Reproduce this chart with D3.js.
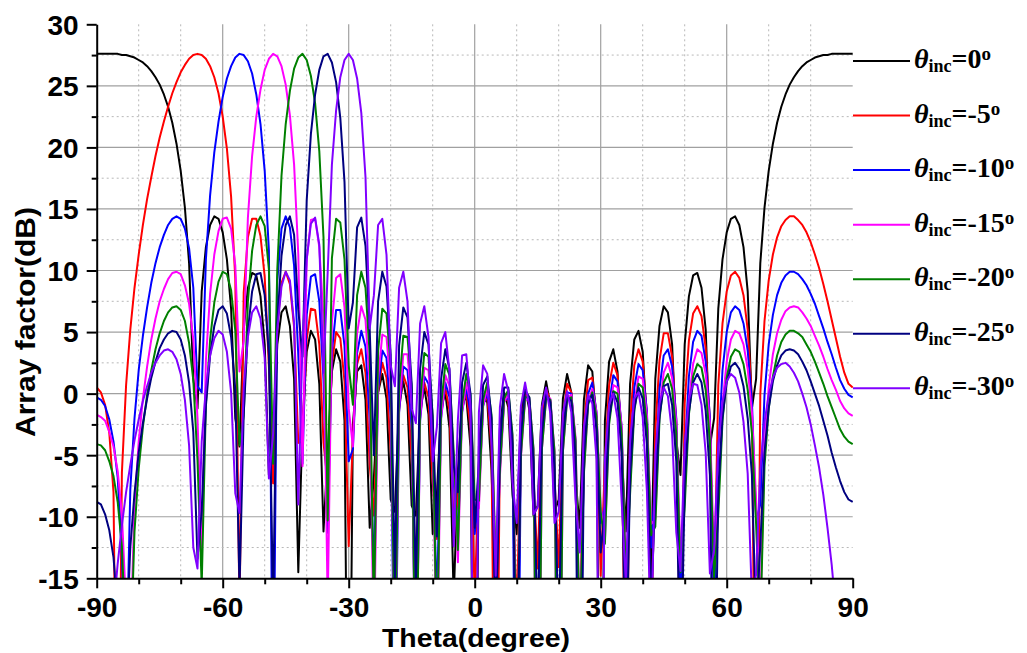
<!DOCTYPE html>
<html>
<head>
<meta charset="utf-8">
<script src="https://cdn.jsdelivr.net/npm/d3@7"></script>
<style>
  body { margin: 0; background: #ffffff; }
  svg { display: block; }
</style>
</head>
<body>
<svg id="chart" width="1027" height="653"></svg>
<script>
const thetaDeg = d3.range(-90, 91, 1);   // sample angles, -90 ... 90

const seriesLabels = ["0", "-5", "-10", "-15", "-20", "-25", "-30"];
const seriesColors = ["#000000", "#ff0000", "#0000ff", "#ff00ff", "#008000", "#000080", "#8000ff"];

const afInc0 = [
  27.6,27.6,27.6,27.6,27.6,27.6,27.5,27.5,27.4,27.3,
  27.1,26.9,26.6,26.2,25.7,25.1,24.3,23.3,22.0,20.3,
  18.1,15.1,10.6,1.2,-1.2,8.3,11.9,13.7,14.4,14.2,
  13.1,10.9,6.9,-2.0,-4.3,5.2,8.6,9.8,9.6,7.9,
  4.0,-6.6,-3.8,4.0,6.6,7.1,5.5,1.2,-14.5,-2.4,
  3.4,5.1,4.4,0.8,-11.2,-4.8,1.8,3.6,2.6,-2.2,
  -40,-2.5,1.8,2.3,-0.5,-10.9,-6.8,0.1,1.6,-0.4,
  -8.6,-9.6,-0.9,1.0,-0.9,-9.1,-9.9,-1.3,0.5,-1.7,
  -11.4,-8.2,-1.1,0.1,-2.8,-16.7,-6.2,-0.7,-0.3,-4.3,
  -40,
  -4.3,-0.3,-0.7,-6.2,-16.7,-2.8,0.1,-1.1,-8.2,-11.4,
  -1.7,0.5,-1.3,-9.9,-9.1,-0.9,1.0,-0.9,-9.6,-8.6,
  -0.4,1.6,0.1,-6.8,-10.9,-0.5,2.3,1.8,-2.5,-40,
  -2.2,2.6,3.6,1.8,-4.8,-11.2,0.8,4.4,5.1,3.4,
  -2.4,-14.5,1.2,5.5,7.1,6.6,4.0,-3.8,-6.6,4.0,
  7.9,9.6,9.8,8.6,5.2,-4.3,-2.0,6.9,10.9,13.1,
  14.2,14.4,13.7,11.9,8.3,-1.2,1.2,10.6,15.1,18.1,
  20.3,22.0,23.3,24.3,25.1,25.7,26.2,26.6,26.9,27.1,
  27.3,27.4,27.5,27.5,27.6,27.6,27.6,27.6,27.6,27.6
];

const afIncM5 = [
  0.5,0.1,-0.9,-3.2,-8.0,-40,-6.4,0.7,5.2,8.6,
  11.3,13.7,15.8,17.6,19.3,20.8,22.1,23.3,24.4,25.3,
  26.1,26.7,27.2,27.5,27.6,27.5,27.2,26.6,25.7,24.4,
  22.5,19.9,16.0,9.3,-17.7,8.2,12.7,14.2,14.2,12.8,
  9.5,2.2,-7.3,5.5,9.0,9.9,8.9,5.4,-4.0,-3.9,
  4.4,6.9,6.8,4.0,-4.0,-7.2,2.4,5.0,4.5,1.0,
  -12.4,-3.5,2.4,3.6,1.7,-5.8,-9.9,0.1,2.5,1.3,
  -4.7,-14.5,-1.3,1.5,0.5,-5.4,-14.7,-1.8,0.9,-0.3,
  -7.2,-11.8,-1.6,0.5,-1.4,-10.6,-8.6,-1.2,0.1,-2.8,
  -16.7,
  -6.2,-0.7,-0.3,-4.3,-40,-4.3,-0.3,-0.6,-5.9,-18.4,
  -3.1,0.1,-0.8,-6.9,-14.2,-2.3,0.4,-0.6,-6.8,-14.1,
  -2.1,0.8,0.1,-5.0,-20.7,-2.7,1.1,1.3,-1.8,-14.8,
  -5.6,0.7,2.5,1.5,-3.4,-29.7,-2.4,2.3,3.6,2.6,
  -1.7,-21.4,-3.0,2.7,4.9,4.9,3.0,-2.3,-23.5,-0.8,
  4.3,6.5,7.1,6.3,3.7,-2.3,-16.5,0.7,5.7,8.3,
  9.6,9.9,9.4,8.0,5.2,-0.4,-40,0.0,5.9,9.2,
  11.3,12.7,13.6,14.1,14.4,14.4,14.1,13.7,13.1,12.3,
  11.3,10.2,8.9,7.5,6.0,4.5,3.0,1.7,0.8,0.5
];

const afIncM10 = [
  -0.3,-0.5,-1.0,-2.1,-3.9,-6.8,-13.2,-23.3,-7.8,-2.0,
  1.9,4.7,7.0,9.0,10.6,11.9,12.9,13.7,14.2,14.4,
  14.2,13.4,11.8,8.6,0.6,0.1,10.9,16.1,19.6,22.1,
  24.1,25.6,26.6,27.3,27.6,27.5,27.0,26.0,24.3,21.9,
  18.1,11.6,-30,9.2,13.4,14.4,13.5,10.4,3.1,-5.7,
  6.4,9.5,9.7,7.5,1.2,-11.3,3.4,6.8,6.8,3.9,
  -5.5,-4.5,3.3,5.1,3.8,-2.1,-14.8,0.3,3.5,2.9,
  -1.8,-27.6,-1.5,2.2,1.9,-2.8,-25.7,-2.2,1.4,0.8,
  -4.6,-17.0,-2.0,0.9,-0.3,-7.2,-11.5,-1.5,0.5,-1.6,
  -11.4,
  -8.1,-1.0,0.1,-3.0,-18.4,-5.9,-0.6,-0.3,-4.4,-40,
  -4.4,-0.3,-0.6,-5.4,-23.1,-3.7,-0.1,-0.5,-5.3,-23.5,
  -3.7,0.1,0.0,-3.9,-27.5,-4.8,0.0,0.9,-1.5,-10.5,
  -9.2,-0.9,1.5,1.0,-2.8,-18.4,-5.4,0.5,2.4,1.9,
  -1.4,-12.5,-7.1,0.4,3.1,3.6,2.2,-2.0,-17.0,-5.1,
  1.4,4.2,5.1,4.7,2.6,-1.9,-18.1,-4.7,1.9,5.0,
  6.6,7.1,6.8,5.7,3.5,-0.6,-10.3,-9.0,-0.1,4.0,
  6.4,8.0,9.0,9.6,9.9,9.9,9.7,9.3,8.8,8.1,
  7.3,6.3,5.3,4.2,3.2,2.1,1.1,0.4,-0.1,-0.3
];

const afIncM15 = [
  -1.7,-1.9,-2.2,-3.1,-4.3,-6.3,-9.8,-17.4,-20.8,-9.1,
  -3.9,-0.4,2.2,4.4,6.1,7.5,8.5,9.3,9.8,9.9,
  9.7,8.8,7.3,4.4,-2.0,-12.8,2.7,8.1,11.3,13.2,
  14.2,14.3,13.4,10.4,1.8,4.3,14.3,19.3,22.5,24.7,
  26.3,27.2,27.6,27.4,26.6,25.1,22.6,18.6,11.3,-5.9,
  10.9,14.1,14.2,11.9,6.1,-17.3,5.8,9.4,9.7,7.0,
  -1.2,-4.3,4.9,7.1,6.0,0.8,-21.5,1.2,4.8,4.6,
  0.4,-23.7,-1.1,3.2,3.2,-0.9,-28.0,-2.0,2.1,1.9,
  -2.8,-23.4,-2.0,1.5,0.6,-5.4,-13.7,-1.5,0.9,-0.7,
  -9.1,
  -9.3,-1.0,0.5,-2.1,-14.2,-6.7,-0.7,0.0,-3.5,-23.1,
  -5.2,-0.5,-0.4,-4.5,-40,-4.5,-0.4,-0.4,-4.6,-40,
  -4.7,-0.4,-0.1,-3.5,-19.0,-6.3,-0.7,0.4,-1.5,-9.2,
  -12.0,-2.1,0.7,0.5,-2.7,-14.5,-7.6,-0.8,1.4,1.2,
  -1.7,-10.6,-10.2,-1.4,1.7,2.5,1.3,-2.3,-13.3,-8.3,
  -0.6,2.4,3.6,3.3,1.6,-2.4,-13.4,-8.7,-0.8,2.6,
  4.4,5.1,4.9,4.0,2.0,-1.5,-8.6,-17.7,-4.2,0.5,
  3.2,4.9,6.0,6.7,7.0,7.1,7.0,6.6,6.1,5.5,
  4.7,3.9,3.0,2.0,1.1,0.3,-0.6,-1.2,-1.6,-1.8
];

const afIncM20 = [
  -4.1,-4.2,-4.6,-5.5,-6.7,-8.8,-12.4,-20.6,-22.1,-11.2,
  -6.1,-2.7,-0.1,1.9,3.6,4.9,5.9,6.6,7.0,7.1,
  6.8,5.9,4.1,1.1,-5.4,-15.6,-0.8,4.4,7.4,9.1,
  9.9,9.7,8.4,5.1,-4.2,-1.8,7.5,11.6,13.7,14.4,
  13.6,10.1,-5.7,10.1,17.7,21.9,24.6,26.4,27.3,27.6,
  27.1,25.8,23.6,19.7,12.7,-10.3,11.0,14.2,13.9,10.9,
  2.3,-0.9,8.0,9.9,8.6,3.2,-18.3,3.5,6.9,6.5,
  2.2,-23.1,0.6,4.7,4.6,0.4,-28.3,-0.7,3.3,3.0,
  -1.8,-21.6,-1.0,2.4,1.5,-4.7,-12.7,-0.8,1.6,-0.1,
  -8.6,
  -8.7,-0.5,0.9,-1.7,-14.0,-6.2,-0.4,0.3,-3.3,-23.5,
  -5.0,-0.3,-0.3,-4.5,-40,-4.5,-0.4,-0.5,-4.7,-40,
  -4.7,-0.5,-0.3,-3.8,-19.6,-6.5,-0.9,0.1,-1.9,-9.6,
  -12.2,-2.5,0.2,0.0,-3.3,-15.2,-8.1,-1.4,0.8,0.5,
  -2.5,-11.5,-10.8,-2.1,0.9,1.6,0.4,-3.2,-14.5,-9.2,
  -1.7,1.4,2.4,2.1,0.3,-3.8,-14.9,-9.8,-2.2,1.3,
  3.0,3.6,3.4,2.4,0.3,-3.2,-10.6,-19.0,-5.9,-1.2,
  1.4,3.1,4.2,4.8,5.1,5.1,4.9,4.6,4.0,3.4,
  2.6,1.7,0.8,-0.2,-1.1,-2.0,-2.9,-3.5,-3.9,-4.1
];

const afIncM25 = [
  -8.8,-9.0,-9.8,-11.1,-13.3,-17.6,-30.6,-20.6,-12.5,-8.1,
  -4.8,-2.4,-0.4,1.3,2.6,3.7,4.4,4.9,5.1,5.0,
  4.4,3.1,0.9,-3.1,-13.4,-9.5,-1.0,3.1,5.5,6.8,
  7.1,6.5,4.6,0.3,-15.8,-1.7,5.1,8.3,9.7,9.8,
  8.0,3.1,-17.5,5.7,11.2,13.7,14.4,12.9,6.8,3.0,
  15.7,21.1,24.3,26.3,27.4,27.6,26.9,25.3,22.4,17.2,
  5.3,7.4,13.5,14.3,12.0,5.2,-5.0,7.5,9.9,8.7,
  3.2,-15.0,3.9,7.0,6.2,0.8,-15.9,2.0,5.0,4.0,
  -2.1,-11.6,1.2,3.6,2.0,-5.8,-8.0,0.9,2.5,0.0,
  -10.9,
  -5.6,0.7,1.4,-2.0,-20.6,-4.2,0.5,0.5,-4.1,-27.5,
  -3.4,0.3,-0.3,-5.6,-19.0,-3.2,0.0,-0.7,-6.1,-19.6,
  -3.6,-0.2,-0.6,-5.0,-40,-5.0,-0.7,-0.1,-2.9,-12.9,
  -9.4,-2.0,0.1,-0.7,-4.8,-24.6,-6.5,-1.2,0.5,-0.4,
  -4.1,-16.9,-8.5,-1.8,0.6,0.8,-0.9,-5.5,-25.4,-7.3,
  -1.5,0.9,1.6,0.9,-1.4,-6.6,-30.8,-7.8,-1.9,0.9,
  2.2,2.5,2.0,0.6,-2.0,-6.6,-19.0,-12.3,-4.8,-1.2,
  1.0,2.3,3.1,3.5,3.6,3.5,3.2,2.6,1.9,1.0,
  0.0,-1.0,-2.2,-3.4,-4.8,-6.0,-7.1,-8.0,-8.6,-8.8
];

const afIncM30 = [
  -40,-40,-29.8,-22.7,-17.7,-13.8,-10.7,-8.0,-5.8,-3.8,
  -2.1,-0.6,0.6,1.7,2.5,3.1,3.5,3.6,3.4,2.8,
  1.6,-0.5,-4.2,-12.5,-14.2,-3.9,0.5,3.1,4.5,5.1,
  4.8,3.4,0.1,-8.1,-9.7,0.5,4.6,6.6,7.1,6.1,
  2.9,-6.9,-3.3,5.2,8.7,9.9,9.2,5.7,-9.0,4.1,
  10.9,13.8,14.3,12.1,1.7,9.9,18.6,23.0,25.7,27.1,
  27.6,27.1,25.6,22.8,17.6,5.3,8.0,13.7,14.2,11.3,
  2.3,0.6,8.6,9.9,7.5,-1.2,-2.4,5.7,7.1,4.6,
  -5.5,-2.7,4.1,5.0,1.8,-12.4,-2.1,3.1,3.2,-1.0,
  -40,
  -1.5,2.3,1.6,-4.0,-14.8,-1.1,1.6,0.2,-7.2,-10.5,
  -1.0,0.9,-1.0,-9.8,-9.2,-1.1,0.5,-1.6,-10.5,-9.6,
  -1.6,0.2,-1.5,-8.6,-12.9,-2.7,-0.1,-0.8,-5.3,-40,
  -5.4,-0.9,0.0,-2.0,-8.8,-15.5,-3.7,-0.4,0.1,-1.9,
  -7.9,-20.3,-4.9,-0.8,0.5,-0.2,-3.2,-11.3,-14.4,-4.1,
  -0.5,0.8,0.7,-0.9,-4.8,-14.6,-12.7,-4.2,-0.7,1.0,
  1.6,1.3,0.1,-2.3,-6.5,-16.6,-14.7,-6.2,-2.3,-0.1,
  1.3,2.1,2.4,2.5,2.2,1.7,1.0,0.0,-1.1,-2.5,
  -4.2,-6.0,-8.2,-10.9,-13.9,-17.7,-22.8,-29.8,-40,-40
];

const xTicksMajor = [-90, -60, -30, 0, 30, 60, 90];
const xTicksMinor = [-80, -70, -50, -40, -20, -10, 10, 20, 40, 50, 70, 80];
const yTicksMajor = [-15, -10, -5, 0, 5, 10, 15, 20, 25, 30];
const yTicksMinor = [-12.5, -7.5, -2.5, 2.5, 7.5, 12.5, 17.5, 22.5, 27.5];

const seriesValues = [afInc0, afIncM5, afIncM10, afIncM15, afIncM20, afIncM25, afIncM30];

// ---------------- drawing ----------------
const svg = d3.select("#chart");
const x = d3.scaleLinear().domain([-90, 90]).range([96.7, 852.7]);
const y = d3.scaleLinear().domain([-15, 30]).range([578.3, 24.3]);

const sansFont = "'Liberation Sans', Arial, Helvetica, sans-serif";
const serifFont = "'Liberation Serif', 'Times New Roman', serif";

// grid
const grid = svg.append("g");
grid.selectAll("line.vminor").data(xTicksMinor).join("line")
  .attr("x1", d => x(d)).attr("x2", d => x(d))
  .attr("y1", y(30)).attr("y2", y(-15))
  .attr("stroke", "#b8b8b8").attr("stroke-width", 1).attr("stroke-dasharray", "2,3");
grid.selectAll("line.vmajor").data(xTicksMajor.filter(d => d > -90 && d < 90)).join("line")
  .attr("x1", d => x(d)).attr("x2", d => x(d))
  .attr("y1", y(30)).attr("y2", y(-15))
  .attr("stroke", "#a0a0a0").attr("stroke-width", 1.2);
grid.selectAll("line.hminor").data(yTicksMinor).join("line")
  .attr("x1", x(-90)).attr("x2", x(90))
  .attr("y1", d => y(d)).attr("y2", d => y(d))
  .attr("stroke", "#b8b8b8").attr("stroke-width", 1).attr("stroke-dasharray", "2,3");
grid.selectAll("line.hmajor").data(yTicksMajor.filter(d => d > -15 && d < 30)).join("line")
  .attr("x1", x(-90)).attr("x2", x(90))
  .attr("y1", d => y(d)).attr("y2", d => y(d))
  .attr("stroke", "#a0a0a0").attr("stroke-width", 1.2);

// clip
svg.append("defs").append("clipPath").attr("id", "plotClip")
  .append("rect")
  .attr("x", x(-90)).attr("y", y(30) - 2)
  .attr("width", x(90) - x(-90) + 1).attr("height", y(-15) - y(30) + 2);

const line = d3.line().x(d => x(d[0])).y(d => y(d[1]));
const curves = svg.append("g").attr("clip-path", "url(#plotClip)");
seriesValues.forEach((vals, i) => {
  curves.append("path")
    .datum(d3.zip(thetaDeg, vals))
    .attr("fill", "none")
    .attr("stroke", seriesColors[i])
    .attr("stroke-width", 2)
    .attr("stroke-linejoin", "round")
    .attr("d", line);
});

// axes
const xAxisMinor = d3.axisBottom(x).tickValues(xTicksMinor).tickSize(6).tickSizeOuter(0).tickFormat("");
const xAxisMajor = d3.axisBottom(x).tickValues(xTicksMajor).tickSize(10).tickSizeOuter(0)
  .tickPadding(9).tickFormat(d => String(d));
const yAxisMinor = d3.axisLeft(y).tickValues(yTicksMinor).tickSize(5).tickSizeOuter(0).tickFormat("");
const yAxisMajor = d3.axisLeft(y).tickValues(yTicksMajor).tickSize(10).tickSizeOuter(0)
  .tickPadding(8).tickFormat(d => String(d));

function styleAxis(g) {
  g.select(".domain").attr("stroke", "#000").attr("stroke-width", 2);
  g.selectAll(".tick line").attr("stroke", "#000").attr("stroke-width", 2);
  g.selectAll(".tick text")
    .attr("font-family", sansFont).attr("font-weight", "bold")
    .attr("font-size", 28).attr("fill", "#000");
}

const gx = svg.append("g").attr("transform", `translate(0,${y(-15)})`);
gx.append("g").call(xAxisMinor).call(styleAxis).select(".domain").remove();
gx.append("g").call(xAxisMajor).call(styleAxis);

const gy = svg.append("g").attr("transform", `translate(${x(-90)},0)`);
gy.append("g").call(yAxisMinor).call(styleAxis).select(".domain").remove();
gy.append("g").call(yAxisMajor).call(styleAxis);
gy.selectAll(".tick text").attr("dy", "0.35em");

// axis titles
svg.append("text")
  .attr("x", 476).attr("y", 647)
  .attr("text-anchor", "middle")
  .attr("font-family", sansFont).attr("font-weight", "bold").attr("font-size", 26)
  .attr("textLength", 188).attr("lengthAdjust", "spacingAndGlyphs")
  .text("Theta(degree)");

svg.append("text")
  .attr("transform", "translate(35,322) rotate(-90)")
  .attr("text-anchor", "middle")
  .attr("font-family", sansFont).attr("font-weight", "bold").attr("font-size", 28)
  .attr("textLength", 230).attr("lengthAdjust", "spacingAndGlyphs")
  .text("Array factor(dB)");

// legend
const legendY0 = 61, legendStep = 54.55;
const legend = svg.append("g");
seriesLabels.forEach((lab, i) => {
  const ly = legendY0 + i * legendStep;
  legend.append("line")
    .attr("x1", 853).attr("x2", 910).attr("y1", ly).attr("y2", ly)
    .attr("stroke", seriesColors[i]).attr("stroke-width", 2);
  const t = legend.append("text")
    .attr("x", 914).attr("y", ly + 7)
    .attr("font-family", serifFont).attr("font-weight", "bold").attr("font-size", 28)
    .attr("fill", "#000");
  t.append("tspan").attr("font-style", "italic").text("\u03B8");
  t.append("tspan").attr("font-size", 18).attr("dy", 4).text("inc");
  t.append("tspan").attr("dy", -4).text("=" + lab);
  t.append("tspan").attr("font-size", 19).attr("dy", -8).text("o");
});
</script>
</body>
</html>
